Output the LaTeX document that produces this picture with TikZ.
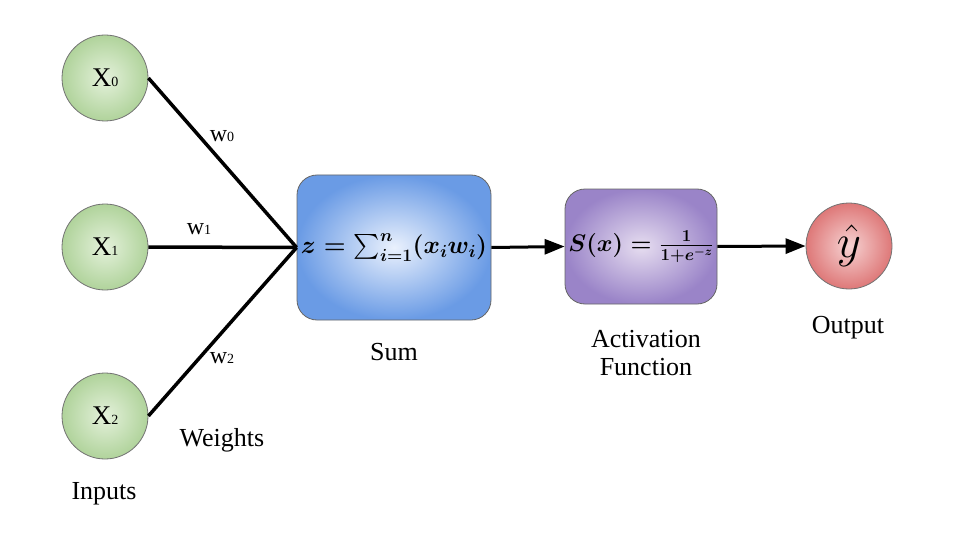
\RequirePackage{fix-cm}
\documentclass[tikz,border=0pt]{standalone}
\usepackage{amsmath}
\usepackage[no-math]{fontspec}
\setmainfont{Liberation Serif}
\usetikzlibrary{arrows.meta}
\definecolor{gin}{HTML}{E4F1DB}
\definecolor{gout}{HTML}{B0D39B}
\definecolor{bin}{HTML}{EAF1FD}
\definecolor{bout}{HTML}{6A9BE5}
\definecolor{pin}{HTML}{E6DDF0}
\definecolor{pout}{HTML}{9A84C8}
\definecolor{rin}{HTML}{F6D2D2}
\definecolor{rout}{HTML}{DE7878}
\newcommand\subdig[1]{{\fontsize{14}{14}\selectfont #1}}
\newcommand\sumeqn{$\boldsymbol{z=\sum_{i=1}^{n}(x_i w_i)}$}
\newcommand\acteqn{$\boldsymbol{S(x)=\frac{1}{1+e^{-z}}}$}
\newcommand\yhateqn{$\hat{y}$}
\begin{document}
\begin{tikzpicture}[x=1pt,y=-1pt,
  inp/.style={circle,draw=black!55,line width=0.8pt,minimum size=86pt,inner sep=0pt,
    shading=radial,inner color=gin,outer color=gout,font=\fontsize{27}{28}\selectfont},
  outc/.style={circle,draw=black!55,line width=0.8pt,minimum size=86pt,inner sep=0pt,
    shading=radial,inner color=rin,outer color=rout,font=\fontsize{47}{50}\selectfont},
  boxs/.style={rectangle,rounded corners=20pt,draw=black!60,line width=0.8pt,inner sep=0pt,
    font=\fontsize{25}{28}\selectfont},
  wline/.style={line width=3.5pt,black},
  arr/.style={line width=3pt,black,-{Triangle[length=20pt,width=15pt]}},
  lbl/.style={font=\fontsize{26}{27}\selectfont,inner sep=0pt},
  wlbl/.style={font=\fontsize{24}{26}\selectfont,inner sep=0pt}]
\useasboundingbox (0,0) rectangle (960,540);
\fill[white] (0,0) rectangle (960,540);
% inputs
\node[inp] (x0) at (105,78) {X\subdig{0}};
\node[inp] (x1) at (105,247) {X\subdig{1}};
\node[inp] (x2) at (105,416) {X\subdig{2}};
% sum and activation
\node[boxs,minimum width=194pt,minimum height=145pt,shading=radial,inner color=bin,outer color=bout] (sum) at (394,247.5) {\raisebox{4pt}{\sumeqn}};
\node[boxs,minimum width=152pt,minimum height=115pt,shading=radial,inner color=pin,outer color=pout,font=\fontsize{24}{28}\selectfont] (act) at (641,246.5) {\raisebox{3pt}{\acteqn}};
% output
\node[outc] (out) at (849,246) {\raisebox{4pt}{\yhateqn}};
% connectors
\draw[wline] (x0.east) -- (sum.west);
\draw[wline] (x1.east) -- (sum.west);
\draw[wline] (x2.east) -- (sum.west);
\draw[arr] (sum.east) -- (act.west);
\draw[arr] (act.east) -- (out.west);
% weight labels
\node[wlbl] (w0) at (222,136) {w\subdig{0}};
\node[wlbl] (w1) at (199,229) {w\subdig{1}};
\node[wlbl] (w2) at (222,358) {w\subdig{2}};
% captions
\node[lbl] (lsum) at (394,352) {Sum};
\node[lbl,align=center] (lact) at (646,353) {Activation\\[1pt]Function};
\node[lbl] (lout) at (848,328) {Output};
\node[lbl] (lw) at (222,440) {Weights};
\node[lbl] (lin) at (104,494) {Inputs};
\end{tikzpicture}
\end{document}
